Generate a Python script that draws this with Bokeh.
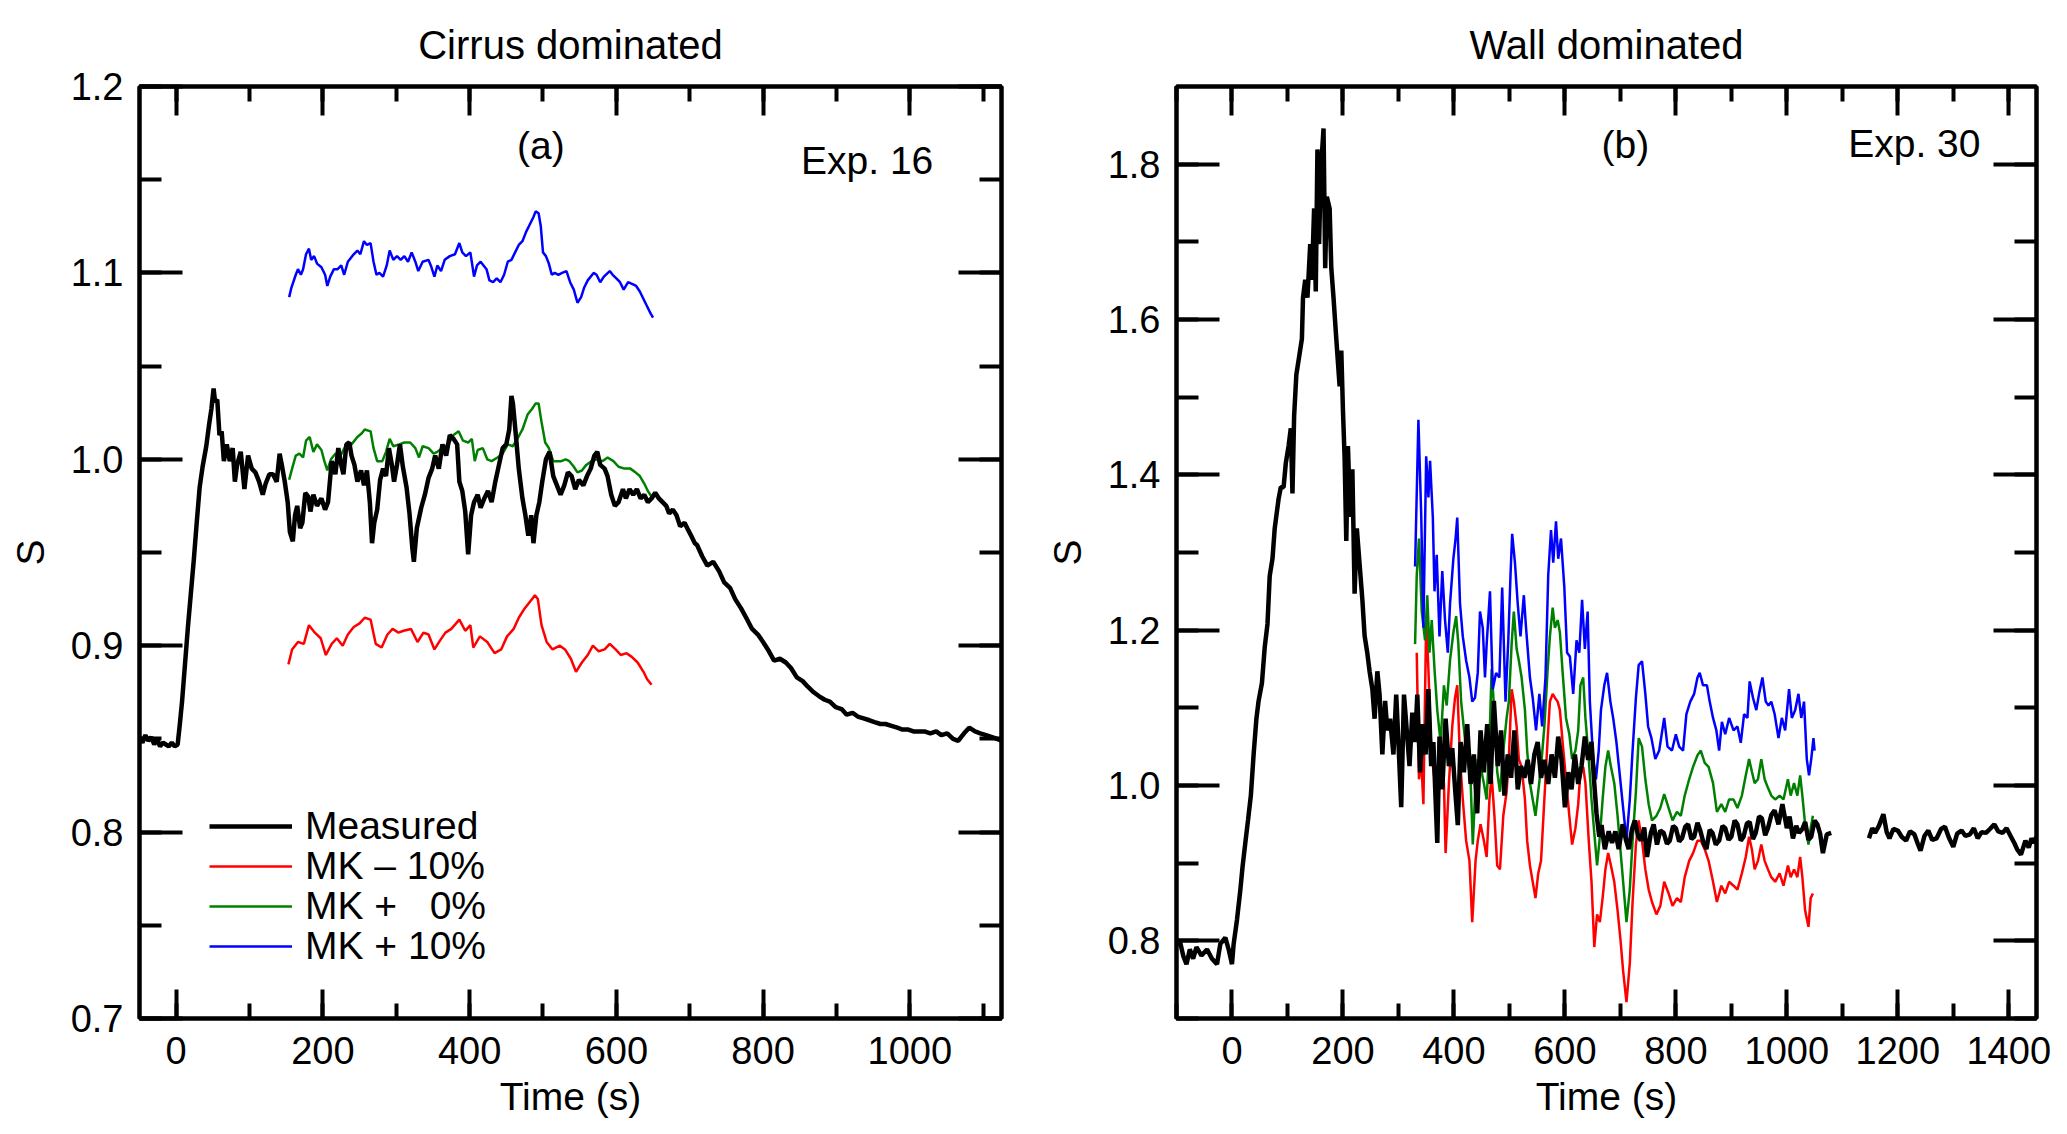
from bokeh.plotting import figure
from bokeh.layouts import row
from bokeh.models import (LinearAxis, SingleIntervalTicker, NumeralTickFormatter,
                          Range1d, Label, Legend, LegendItem)
from bokeh.embed import file_html
from bokeh.resources import INLINE

FONT = "Liberation Sans"

# ---- (a) Exp. 16, cirrus dominated ----
a_meas_t = [-50, -46, -42, -38, -34, -30, -26, -22, -18, -14, -10, -6, -2, 2,
            5, 8, 12, 16, 20, 24, 28, 32, 36, 41, 45, 48, 51, 53, 56, 59, 62, 65, 69, 73, 77, 80, 83,
            88, 93, 98, 103, 108, 113, 118, 122, 127, 132, 137, 141, 144, 148, 152, 155, 159, 162,
            165, 169, 172, 176, 180, 183, 187, 192, 198, 203, 207, 212, 217, 221, 225, 228, 232,
            236, 239, 243, 247, 252, 256, 260, 264, 267, 270, 274, 278, 282, 286, 290, 294, 297,
            301, 305, 309, 314, 318, 322, 324, 328, 334, 339, 344, 349, 353, 358, 363, 368, 373,
            378, 383, 386, 390, 394, 398, 402, 406, 411, 415, 420, 425, 430, 435, 440, 445, 450,
            454, 457, 459, 463, 467, 472, 476, 480, 484, 487, 491, 495, 499, 504, 509, 514, 519,
            524, 529, 534, 539, 544, 549, 555, 560, 565, 570, 574, 578, 584, 588, 593, 598, 603,
            609, 613, 618, 623, 628, 633, 638, 643, 648, 653, 658, 663, 668, 672, 677, 682, 687,
            693, 698, 702, 707, 710, 717, 724, 732, 740, 747, 755, 762, 770, 777, 785, 793, 800,
            808, 815, 823, 831, 838, 846, 854, 861, 869, 876, 884, 891, 899, 907, 914, 922, 929,
            937, 945, 952, 960, 967, 975, 983, 990, 998, 1005, 1013, 1020, 1028, 1036, 1043, 1051,
            1059, 1066, 1074, 1081, 1089, 1096, 1104, 1112, 1119, 1125]
a_meas_s = [0.851, 0.848, 0.852, 0.849, 0.851, 0.847, 0.850, 0.846, 0.848, 0.847, 0.846, 0.848, 0.846, 0.847,
            0.858, 0.870, 0.890, 0.910, 0.928, 0.946, 0.966, 0.985, 0.996, 1.007, 1.019, 1.027, 1.038, 1.031,
            1.032, 1.013, 1.015, 0.999, 1.008, 0.999, 1.006, 0.988, 0.997,
            1.004, 0.984, 1.002, 0.995, 0.993, 0.988, 0.981, 0.987, 0.992, 0.992, 0.988, 1.003, 0.997, 0.988,
            0.977, 0.961, 0.956, 0.970,
            0.975, 0.963, 0.966, 0.982, 0.980, 0.972, 0.981, 0.975, 0.979, 0.973, 0.977, 0.999, 0.992, 1.006,
            0.997, 0.992, 1.008,
            1.009, 1.002, 0.997, 0.988, 0.994, 0.986, 0.994, 0.977, 0.955, 0.966, 0.973, 0.989, 0.995, 0.991,
            1.006, 0.997, 0.988,
            0.997, 1.008, 0.996, 0.985, 0.971, 0.952, 0.945, 0.963, 0.974, 0.981, 0.990, 0.995, 1.002, 0.995,
            1.008, 1.002, 1.013,
            1.011, 1.008, 0.988, 0.983, 0.972, 0.949, 0.970, 0.977, 0.981, 0.974, 0.979, 0.983, 0.977, 0.988,
            0.997, 1.006, 1.008,
            1.016, 1.034, 1.030, 1.013, 0.995, 0.979, 0.970, 0.959, 0.970, 0.955, 0.970, 0.977, 0.988, 1.000,
            1.004, 0.991, 0.986,
            0.981, 0.986, 0.993, 0.991, 0.984, 0.989, 0.986, 0.991, 0.995, 1.002, 1.004, 0.997, 0.995, 0.991,
            0.981, 0.975, 0.977,
            0.984, 0.979, 0.984, 0.981, 0.984, 0.979, 0.981, 0.977, 0.979, 0.982, 0.979, 0.977, 0.975, 0.971,
            0.973, 0.970, 0.964,
            0.966, 0.962, 0.959, 0.955, 0.954, 0.948, 0.943, 0.945, 0.940, 0.934, 0.931, 0.925, 0.920, 0.915,
            0.909, 0.906, 0.902,
            0.897, 0.892, 0.893, 0.891, 0.888, 0.883, 0.881, 0.878, 0.875, 0.873, 0.871, 0.870, 0.867, 0.866,
            0.863, 0.864, 0.862,
            0.861, 0.860, 0.859, 0.858, 0.858, 0.857, 0.856, 0.855, 0.855, 0.854, 0.854, 0.854, 0.853, 0.854,
            0.852, 0.853,
            0.850, 0.849, 0.853, 0.856, 0.854, 0.853, 0.852, 0.851, 0.850, 0.849]

a_low_t = [153, 158, 166, 174, 181, 189, 197, 204, 212, 219, 227, 234, 242, 250, 257, 265, 272, 280,
           288, 295, 303, 310, 320, 329, 337, 344, 352, 360, 367, 375, 386, 394, 401, 405, 414, 424,
           434, 443, 451, 460, 467, 475, 483, 489, 493, 498, 505, 513, 523, 530, 538, 545, 553, 561,
           568, 576, 584, 591, 599, 606, 614, 621, 629, 637, 642, 648]
a_low_s = [0.890, 0.898, 0.902, 0.901, 0.911, 0.907, 0.904, 0.895, 0.901, 0.904, 0.900, 0.906, 0.910,
           0.912, 0.915, 0.914, 0.901, 0.899, 0.906, 0.909, 0.907, 0.908, 0.909, 0.902, 0.907, 0.906,
           0.898, 0.903, 0.907, 0.909, 0.914, 0.908, 0.911, 0.899, 0.905, 0.902, 0.896, 0.898, 0.905,
           0.909, 0.915, 0.920, 0.924, 0.927, 0.925, 0.911, 0.902, 0.898, 0.900, 0.898, 0.893, 0.886,
           0.891, 0.895, 0.900, 0.897, 0.898, 0.901, 0.898, 0.895, 0.896, 0.894, 0.891, 0.886, 0.882,
           0.879]

a_mid_t = [154, 158, 163, 168, 173, 177, 182, 187, 192, 198, 202, 206, 211, 217, 224, 232, 239, 247,
           253, 257, 265, 269, 274, 281, 286, 291, 296, 304, 311, 319, 326, 331, 336, 344, 351, 356,
           363, 371, 378, 385, 391, 398, 403, 407, 411, 418, 424, 430, 438, 445, 452, 459, 465, 472,
           479, 485, 490, 494, 498, 503, 508, 514, 519, 525, 531, 536, 542, 547, 553, 559, 566, 574,
           581, 588, 596, 603, 611, 619, 626, 632, 638, 643, 648]
a_mid_s = [0.989, 0.995, 1.002, 1.003, 1.001, 1.010, 1.012, 1.004, 1.008, 1.005, 0.999, 0.994, 1.000,
           1.003, 1.002, 1.008, 1.008, 1.012, 1.014, 1.016, 1.015, 1.006, 0.999, 0.999, 1.004, 1.011,
           1.007, 1.008, 1.009, 1.009, 1.006, 1.001, 1.007, 1.006, 1.003, 1.004, 1.006, 1.008, 1.013,
           1.015, 1.010, 1.009, 1.011, 0.999, 1.005, 1.006, 1.000, 0.999, 1.001, 1.003, 1.008, 1.007,
           1.011, 1.016, 1.024, 1.027, 1.030, 1.030, 1.020, 1.009, 1.006, 0.999, 0.999, 0.999, 1.000,
           0.999, 0.996, 0.993, 0.994, 0.997, 0.999, 1.000, 0.999, 1.001, 0.999, 0.996, 0.995, 0.995,
           0.993, 0.991, 0.987, 0.983, 0.980]

a_high_t = [154, 157, 163, 166, 170, 173, 177, 181, 184, 188, 192, 198, 203, 206, 210, 215, 220, 225,
            229, 234, 242, 247, 251, 256, 260, 265, 269, 273, 277, 282, 287, 291, 296, 301, 306, 311,
            316, 321, 326, 330, 336, 344, 348, 352, 356, 361, 366, 373, 380, 386, 390, 395, 401, 406,
            410, 415, 423, 427, 432, 437, 442, 447, 452, 457, 462, 467, 472, 477, 482, 487, 490, 494,
            497, 500, 504, 508, 512, 516, 521, 526, 532, 537, 542, 547, 552, 556, 561, 569, 573, 578,
            583, 591, 595, 600, 605, 610, 616, 622, 627, 632, 637, 642, 647, 650]
a_high_s = [1.087, 1.092, 1.099, 1.102, 1.099, 1.102, 1.110, 1.113, 1.107, 1.109, 1.105, 1.103, 1.099,
            1.093, 1.098, 1.102, 1.102, 1.104, 1.099, 1.106, 1.110, 1.112, 1.110, 1.117, 1.115, 1.116,
            1.106, 1.099, 1.100, 1.098, 1.104, 1.112, 1.107, 1.109, 1.107, 1.109, 1.106, 1.111, 1.106,
            1.101, 1.106, 1.107, 1.103, 1.098, 1.104, 1.101, 1.107, 1.109, 1.110, 1.116, 1.111, 1.109,
            1.111, 1.098, 1.104, 1.106, 1.102, 1.096, 1.095, 1.097, 1.095, 1.099, 1.106, 1.107, 1.111,
            1.115, 1.117, 1.122, 1.126, 1.130, 1.133, 1.132, 1.125, 1.111, 1.109, 1.105, 1.099, 1.100,
            1.099, 1.100, 1.101, 1.095, 1.091, 1.084, 1.087, 1.092, 1.096, 1.100, 1.099, 1.095, 1.098,
            1.101, 1.099, 1.097, 1.095, 1.091, 1.095, 1.094, 1.093, 1.090, 1.086, 1.082, 1.078, 1.076]

# ---- (b) Exp. 30, wall dominated ----
b_meas_t = [-100, -94, -88, -82, -76, -70, -64, -55, -45, -36, -27, -21, -12, -6, 0, 3, 9, 15, 19, 24,
            29, 34, 39, 44, 48, 54, 59, 64, 68, 73, 77, 84, 88, 93, 97, 102, 106, 109, 112, 116, 121,
            126, 128, 132, 136, 141, 144, 148, 151, 154, 157, 160, 165, 168, 171, 176, 179, 183, 188,
            194, 197, 200, 203, 206, 209, 213, 217, 221, 225, 230, 235, 239, 244, 248, 253, 257, 262,
            266, 271, 276, 280, 285, 291, 296, 300, 305, 310, 315, 320, 325, 330, 334, 339, 344, 349,
            354, 359, 363, 370, 374, 379, 385, 391, 397, 403, 407, 412, 418, 424, 430, 436, 442, 448,
            454, 460, 466, 472, 479, 485, 491, 497, 503, 509, 515, 521, 527, 533, 539, 545, 551, 557,
            563, 570, 576, 582, 588, 594, 600, 606, 612, 618, 624, 630, 636, 642, 648, 653, 657, 662,
            666, 672, 679, 685, 691, 697, 704, 710, 715, 721, 726, 732, 737, 743, 748, 755, 760, 766,
            772, 778, 784, 789, 795, 800, 806, 811, 817, 822, 828, 833, 839, 844, 850, 855, 861, 866,
            872, 878, 884, 889, 895, 900, 906, 911, 917, 922, 928, 933, 939, 944, 950, 955, 961, 966,
            972, 978, 985, 992, 1000, 1005, 1011, 1017, 1022, 1028, 1033, 1039, 1044, 1050, 1055,
            1060, 1065, 1072, 1080]
b_meas_s = [0.795, 0.800, 0.781, 0.770, 0.789, 0.777, 0.792, 0.781, 0.789, 0.777, 0.770, 0.796, 0.804,
            0.789, 0.770, 0.796, 0.827, 0.865, 0.895, 0.926, 0.956, 0.987, 1.040, 1.086, 1.109, 1.132,
            1.178, 1.208, 1.270, 1.292, 1.331, 1.369, 1.384, 1.384, 1.415, 1.437, 1.460, 1.376, 1.476,
            1.529, 1.552, 1.575, 1.628, 1.651, 1.628, 1.697, 1.651, 1.743, 1.636, 1.819, 1.697, 1.789,
            1.846, 1.666, 1.758, 1.743, 1.666, 1.628, 1.575, 1.514, 1.560, 1.483, 1.422, 1.315, 1.437,
            1.346, 1.407, 1.247, 1.331, 1.285, 1.239, 1.193, 1.170, 1.147, 1.124, 1.086, 1.147, 1.117,
            1.040, 1.109, 1.071, 1.086, 1.040, 1.117, 1.056, 0.972, 1.117, 1.071, 1.025, 1.094, 1.056,
            1.117, 1.017, 1.079, 1.040, 1.124, 1.025, 1.056, 0.926, 1.063, 0.995, 1.086, 1.025, 1.048,
            0.987, 0.949, 1.056, 1.017, 1.079, 1.002, 1.040, 0.964, 1.071, 1.017, 1.079, 1.002, 1.109,
            1.025, 1.071, 0.987, 1.040, 1.010, 1.071, 0.995, 1.025, 1.010, 1.033, 1.002, 1.040, 1.056,
            1.010, 1.033, 1.002, 1.040, 1.010, 1.063, 1.033, 0.972, 1.017, 0.995, 1.040, 1.002, 1.025,
            1.063, 1.033, 1.056, 1.002, 0.964, 0.934, 0.949, 0.918, 0.941, 0.926, 0.941, 0.918, 0.950,
            0.930, 0.918, 0.944, 0.955, 0.935, 0.929, 0.946, 0.908, 0.939, 0.950, 0.924, 0.942, 0.939,
            0.925, 0.929, 0.948, 0.945, 0.928, 0.932, 0.947, 0.950, 0.931, 0.934, 0.952, 0.942, 0.926,
            0.918, 0.943, 0.939, 0.924, 0.929, 0.948, 0.945, 0.930, 0.934, 0.955, 0.950, 0.929, 0.934,
            0.951, 0.953, 0.931, 0.939, 0.960, 0.958, 0.936, 0.945, 0.962, 0.968, 0.950, 0.976, 0.945,
            0.960, 0.932, 0.948, 0.939, 0.944, 0.953, 0.930, 0.934, 0.955, 0.950, 0.938, 0.913, 0.937,
            0.939]

b_late_t = [1148, 1154, 1159, 1166, 1174, 1180, 1185, 1192, 1200, 1207, 1215, 1222, 1230, 1236, 1241,
            1248, 1255, 1262, 1270, 1278, 1285, 1292, 1300, 1307, 1315, 1322, 1330, 1337, 1344, 1351,
            1359, 1366, 1374, 1381, 1389, 1396, 1404, 1410, 1415, 1422, 1430, 1436, 1441, 1446, 1450]
b_late_s = [0.932, 0.945, 0.939, 0.948, 0.963, 0.940, 0.932, 0.944, 0.942, 0.934, 0.929, 0.941, 0.937,
            0.925, 0.916, 0.935, 0.942, 0.930, 0.932, 0.944, 0.947, 0.933, 0.921, 0.938, 0.942, 0.935,
            0.937, 0.945, 0.932, 0.940, 0.939, 0.944, 0.950, 0.941, 0.939, 0.945, 0.934, 0.926, 0.918,
            0.911, 0.929, 0.920, 0.932, 0.926, 0.934]

b_high_t = [330, 336, 341, 345, 350, 354, 357, 362, 365, 369, 374, 379, 384, 389, 393, 399, 403, 406,
            411, 416, 422, 428, 433, 438, 443, 447, 452, 456, 459, 465, 470, 476, 482, 487, 493, 498,
            502, 505, 510, 515, 520, 526, 530, 537, 542, 548, 554, 559, 565, 570, 575, 579, 584, 588,
            593, 599, 604, 609, 615, 621, 626, 631, 636, 641, 645, 651, 656, 661, 665, 671, 676, 682,
            687, 693, 699, 705, 711, 717, 722, 728, 733, 739, 745, 750, 756, 763, 770, 779, 785, 793,
            800, 806, 813, 819, 826, 833, 839, 843, 849, 856, 861, 867, 873, 878, 883, 889, 896, 904,
            911, 917, 923, 929, 933, 939, 945, 950, 956, 962, 967, 972, 978, 985, 991, 997, 1004, 1009,
            1015, 1021, 1026, 1031, 1036, 1040, 1044, 1048, 1050]
b_high_s = [1.282, 1.471, 1.350, 1.203, 1.424, 1.371, 1.418, 1.345, 1.250, 1.297, 1.192, 1.276, 1.213,
            1.171, 1.234, 1.292, 1.318, 1.345, 1.234, 1.192, 1.161, 1.139, 1.108, 1.113, 1.145, 1.224,
            1.203, 1.139, 1.182, 1.250, 1.124, 1.145, 1.139, 1.255, 1.108, 1.187, 1.271, 1.324, 1.287,
            1.234, 1.192, 1.245, 1.203, 1.139, 1.113, 1.071, 1.118, 1.076, 1.139, 1.271, 1.329, 1.287,
            1.340, 1.292, 1.318, 1.255, 1.171, 1.166, 1.118, 1.187, 1.171, 1.239, 1.176, 1.224, 1.108,
            1.034, 1.008, 1.045, 1.097, 1.129, 1.145, 1.108, 1.087, 1.055, 1.013, 0.971, 0.929, 0.982,
            1.045, 1.113, 1.155, 1.160, 1.118, 1.076, 1.061, 1.034, 1.045, 1.087, 1.050, 1.045, 1.066,
            1.050, 1.045, 1.092, 1.108, 1.118, 1.139, 1.145, 1.129, 1.129, 1.108, 1.087, 1.071, 1.045,
            1.082, 1.066, 1.087, 1.071, 1.076, 1.055, 1.092, 1.087, 1.134, 1.113, 1.097, 1.118, 1.139,
            1.108, 1.103, 1.108, 1.092, 1.061, 1.087, 1.071, 1.124, 1.087, 1.097, 1.118, 1.087, 1.108,
            1.034, 1.013, 1.034, 1.061, 1.045]

b_mid_t = [330, 333, 337, 342, 348, 352, 356, 360, 365, 370, 376, 382, 387, 393, 399, 404, 408, 413,
           419, 424, 430, 434, 439, 443, 448, 454, 459, 464, 468, 473, 478, 483, 489, 495, 499, 504,
           508, 513, 517, 522, 528, 532, 537, 542, 547, 552, 557, 563, 569, 573, 578, 582, 587, 591,
           596, 602, 608, 613, 619, 624, 628, 633, 637, 643, 648, 653, 658, 663, 668, 673, 678, 683,
           689, 695, 700, 705, 711, 717, 722, 728, 733, 739, 745, 751, 757, 765, 772, 779, 787, 794,
           802, 809, 816, 824, 831, 839, 845, 852, 859, 867, 874, 882, 889, 896, 904, 911, 919, 926,
           932, 937, 942, 948, 954, 960, 966, 972, 979, 987, 994, 1002, 1007, 1013, 1019, 1024, 1028,
           1033, 1039, 1043, 1047]
b_mid_s = [1.182, 1.271, 1.318, 1.224, 1.187, 1.245, 1.171, 1.213, 1.150, 1.097, 1.055, 1.129, 1.103,
           1.161, 1.197, 1.218, 1.182, 1.108, 1.066, 1.034, 1.008, 0.924, 1.003, 1.034, 1.024, 1.003,
           0.982, 1.055, 1.150, 1.092, 1.018, 0.992, 1.045, 1.087, 1.108, 1.182, 1.224, 1.176, 1.161,
           1.139, 1.097, 1.045, 1.003, 0.982, 0.961, 0.992, 1.024, 1.076, 1.150, 1.192, 1.229, 1.203,
           1.213, 1.197, 1.145, 1.087, 1.066, 1.034, 1.045, 1.071, 1.129, 1.139, 1.087, 1.034, 0.982,
           0.939, 0.897, 0.934, 0.982, 1.024, 1.045, 1.024, 1.003, 0.961, 0.918, 0.876, 0.824, 0.866,
           0.929, 0.992, 1.061, 1.050, 1.008, 0.976, 0.955, 0.961, 0.971, 0.989, 0.971, 0.955, 0.966,
           0.961, 0.987, 1.008, 1.024, 1.039, 1.045, 1.029, 1.024, 1.003, 0.966, 0.976, 0.966, 0.982,
           0.982, 0.971, 0.987, 1.013, 1.034, 1.018, 1.003, 1.008, 1.034, 1.008, 0.997, 0.987, 0.982,
           0.987, 0.982, 1.008, 0.987, 1.003, 0.987, 1.013, 0.987, 0.950, 0.924, 0.945, 0.961]

b_low_t = [333, 337, 341, 345, 350, 354, 359, 365, 370, 376, 382, 385, 391, 397, 402, 406, 411, 416,
           422, 428, 433, 439, 443, 448, 454, 459, 464, 468, 473, 478, 483, 489, 495, 499, 504, 508,
           513, 517, 522, 528, 532, 537, 542, 547, 552, 557, 563, 569, 573, 578, 582, 587, 591, 596,
           602, 608, 613, 619, 624, 628, 633, 637, 643, 648, 653, 658, 663, 668, 673, 678, 683, 689,
           695, 700, 705, 711, 717, 722, 728, 733, 739, 745, 751, 757, 765, 772, 779, 787, 794, 802,
           809, 816, 824, 831, 839, 845, 852, 859, 867, 874, 882, 889, 896, 904, 911, 919, 926, 932,
           937, 942, 948, 954, 960, 966, 972, 979, 987, 994, 1002, 1007, 1013, 1019, 1024, 1028, 1033,
           1039, 1043, 1047]
b_low_s = [1.171, 1.008, 1.034, 0.976, 1.213, 1.150, 1.045, 1.008, 0.971, 1.018, 1.003, 0.913, 1.003,
           1.076, 1.113, 1.129, 1.034, 0.982, 0.929, 0.903, 0.824, 0.903, 0.929, 0.950, 0.929, 0.908,
           0.982, 1.013, 0.961, 0.897, 0.892, 0.961, 0.992, 1.034, 1.124, 1.108, 1.076, 1.034, 1.024,
           0.982, 0.929, 0.897, 0.876, 0.855, 0.887, 0.903, 0.982, 1.061, 1.108, 1.118, 1.113, 1.108,
           1.097, 1.055, 1.008, 0.961, 0.924, 0.945, 0.976, 1.018, 1.024, 1.003, 0.929, 0.876, 0.792,
           0.834, 0.824, 0.855, 0.892, 0.913, 0.897, 0.876, 0.839, 0.803, 0.761, 0.721, 0.771, 0.850,
           0.924, 0.955, 0.929, 0.892, 0.866, 0.850, 0.834, 0.845, 0.876, 0.861, 0.845, 0.855, 0.850,
           0.882, 0.903, 0.913, 0.929, 0.929, 0.918, 0.903, 0.876, 0.850, 0.871, 0.861, 0.876, 0.871,
           0.866, 0.887, 0.908, 0.934, 0.918, 0.892, 0.903, 0.924, 0.903, 0.892, 0.882, 0.876, 0.887,
           0.871, 0.897, 0.882, 0.892, 0.882, 0.908, 0.882, 0.839, 0.818, 0.855, 0.861]

legend_labels = ["Measured", "MK \u2013 10%", "MK + \u20070%", "MK + 10%"]

RED, GREEN, BLUE = "#ff0000", "#008000", "#0000ff"


def make_panel(title, x_rng, y_rng, x_step, y_step, frame_w, border_right):
    p = figure(x_range=Range1d(*x_rng), y_range=Range1d(*y_rng),
               frame_width=frame_w, frame_height=932,
               min_border_left=139, min_border_right=border_right,
               min_border_top=84, min_border_bottom=116,
               title=title, x_axis_label="Time (s)", y_axis_label="S",
               toolbar_location=None, output_backend="svg")
    p.title.align = "center"
    p.title.text_font = FONT
    p.title.text_font_size = "40px"
    p.title.text_font_style = "normal"
    p.title.text_color = "black"
    p.title.standoff = 40
    p.xgrid.visible = False
    p.ygrid.visible = False
    p.outline_line_color = "black"
    p.outline_line_width = 4

    bottom = p.below[0]
    left = p.left[0]
    # unlabelled tick axes on the top and right edges
    top = LinearAxis(major_label_text_color=None, major_label_text_font_size="1px",
                     major_label_standoff=0)
    right = LinearAxis(major_label_text_color=None, major_label_text_font_size="1px",
                       major_label_standoff=0)
    p.add_layout(top, "above")
    p.add_layout(right, "right")

    for ax, step, big, small in ((bottom, x_step, 29, 15), (top, x_step, 29, 15),
                                 (left, y_step, 43, 22), (right, y_step, 43, 22)):
        ax.ticker = SingleIntervalTicker(interval=step, num_minor_ticks=2)
        ax.axis_line_width = 4
        ax.major_tick_line_width = 4
        ax.minor_tick_line_width = 4
        ax.major_tick_in = big
        ax.major_tick_out = 0
        ax.minor_tick_in = small
        ax.minor_tick_out = 0

    for ax in (bottom, left):
        ax.major_label_text_font = FONT
        ax.major_label_text_font_size = "38px"
        ax.major_label_text_color = "black"
        ax.axis_label_text_font = FONT
        ax.axis_label_text_font_style = "normal"
        ax.axis_label_text_font_size = "39px"
        ax.axis_label_text_color = "black"
    bottom.major_label_standoff = 18
    bottom.axis_label_standoff = 8
    left.major_label_standoff = 16
    left.axis_label_standoff = 16
    left.formatter = NumeralTickFormatter(format="0.0")
    return p


p1 = make_panel("Cirrus dominated", (-50, 1125), (0.7, 1.2 + 1e-9), 200, 0.1, 862, 36)
r_low = p1.line(a_low_t, a_low_s, line_color=RED, line_width=2.5)
r_mid = p1.line(a_mid_t, a_mid_s, line_color=GREEN, line_width=2.5)
r_high = p1.line(a_high_t, a_high_s, line_color=BLUE, line_width=2.5)
r_meas = p1.line(a_meas_t, a_meas_s, line_color="black", line_width=4.5)

# one legend per row so the rows sit 40 px apart as in the original
for label, rend, ypos in zip(legend_labels, [r_meas, r_low, r_mid, r_high], [170, 130, 90, 50]):
    lg = Legend(items=[LegendItem(label=label, renderers=[rend])],
                location=(70, ypos), padding=0, margin=0, spacing=0,
                glyph_width=83, glyph_height=40, label_height=40, label_standoff=13,
                border_line_color=None, background_fill_alpha=0,
                label_text_font=FONT, label_text_font_size="39px", label_text_color="black")
    p1.add_layout(lg)

p1.add_layout(Label(x=497, y=1.157, text="(a)", text_align="center", text_font=FONT,
                    text_font_size="39px", text_color="black"))
p1.add_layout(Label(x=1032, y=1.1486, text="Exp. 16", text_align="right", text_font=FONT,
                    text_font_size="39px", text_color="black"))

p2 = make_panel("Wall dominated", (-100, 1450), (0.7, 1.9), 200, 0.2, 860, 29)
p2.line(b_low_t, b_low_s, line_color=RED, line_width=2.5)
p2.line(b_mid_t, b_mid_s, line_color=GREEN, line_width=2.5)
p2.line(b_high_t, b_high_s, line_color=BLUE, line_width=2.5)
p2.line(b_meas_t, b_meas_s, line_color="black", line_width=4.5)
p2.line(b_late_t, b_late_s, line_color="black", line_width=4.5)

p2.add_layout(Label(x=709, y=1.797, text="(b)", text_align="center", text_font=FONT,
                    text_font_size="39px", text_color="black"))
p2.add_layout(Label(x=1349, y=1.7985, text="Exp. 30", text_align="right", text_font=FONT,
                    text_font_size="39px", text_color="black"))

page = row(p1, p2)
open("out.html", "w").write(file_html(page, INLINE))
